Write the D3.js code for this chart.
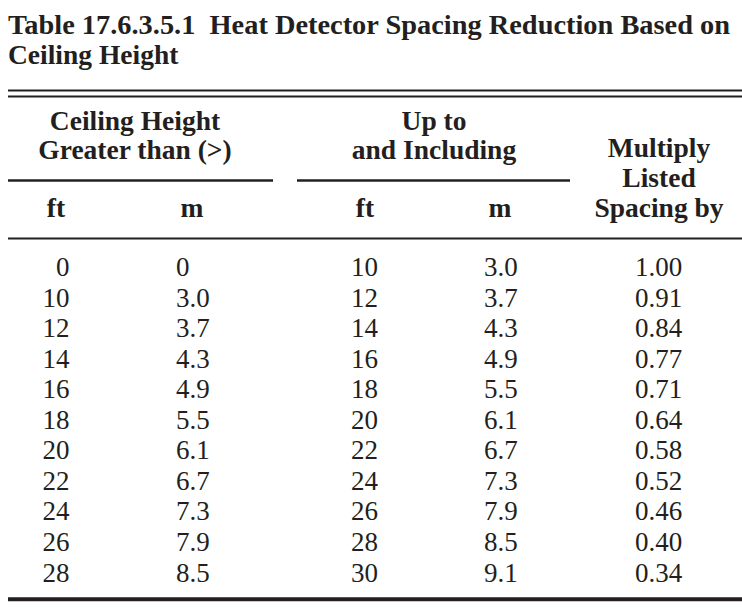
<!DOCTYPE html>
<html>
<head>
<meta charset="utf-8">
<script src="https://cdn.jsdelivr.net/npm/d3@7"></script>
<style>
  html, body { margin: 0; padding: 0; background: #fff; }
  svg { display: block; }
  text { fill: #231f20; }
  .bold { font-family: "Liberation Serif", "DejaVu Serif", serif; font-weight: bold; font-size: 27.5px; }
  .num { font-family: "Liberation Serif", "DejaVu Serif", serif; font-size: 27px; }
</style>
</head>
<body>
<svg id="viz_area" width="742" height="615"></svg>
<script>
// table values
const ftFrom = ["0", "10", "12", "14", "16", "18", "20", "22", "24", "26", "28"];
const mFrom  = ["0", "3.0", "3.7", "4.3", "4.9", "5.5", "6.1", "6.7", "7.3", "7.9", "8.5"];
const ftTo   = ["10", "12", "14", "16", "18", "20", "22", "24", "26", "28", "30"];
const mTo    = ["3.0", "3.7", "4.3", "4.9", "5.5", "6.1", "6.7", "7.3", "7.9", "8.5", "9.1"];
const factor = ["1.00", "0.91", "0.84", "0.77", "0.71", "0.64", "0.58", "0.52", "0.46", "0.40", "0.34"];

const titleLines = ["Table 17.6.3.5.1\u00a0\u00a0Heat Detector Spacing Reduction Based on", "Ceiling Height"];
const groupHeads = [["Ceiling Height", "Greater than (>)"], ["Up to", "and Including"]];
const unitHeads  = ["ft", "m", "ft", "m"];
const lastHead   = ["Multiply", "Listed", "Spacing by"];

const svg = d3.select("#viz_area");
const ink = "#231f20";

// title
svg.selectAll("text.title")
    .data(titleLines)
    .enter()
    .append("text")
    .attr("class", "bold title")
    .attr("x", 8)
    .attr("y", (d, i) => 34 + i * 30)
    .text(d => d)
    .each(function(d, i) {
        // stretch first line to the printed width
        if (i === 0) d3.select(this).attr("textLength", 722).attr("lengthAdjust", "spacingAndGlyphs");
    });

const rule = (x1, x2, y, w) => svg.append("line")
    .attr("x1", x1).attr("x2", x2).attr("y1", y).attr("y2", y)
    .attr("stroke", ink).attr("stroke-width", w);

// double rule under title
rule(8, 742, 90.5, 2.2);
rule(8, 742, 96.5, 2.2);

// spanning headers
const groupX = [135, 434];
groupHeads.forEach((lines, g) => {
    svg.selectAll(null)
        .data(lines)
        .enter()
        .append("text")
        .attr("class", "bold")
        .attr("text-anchor", "middle")
        .attr("x", groupX[g])
        .attr("y", (d, i) => 129.5 + i * 29.5)
        .text(d => d);
});
rule(8, 273, 180.5, 2.5);
rule(297, 570, 180.5, 2.5);

// last column header
svg.selectAll(null)
    .data(lastHead)
    .enter()
    .append("text")
    .attr("class", "bold")
    .attr("text-anchor", "middle")
    .attr("x", 659)
    .attr("y", (d, i) => 157 + i * 30)
    .text(d => d);

// units
const unitX = [56, 192, 365, 500];
svg.selectAll(null)
    .data(unitHeads)
    .enter()
    .append("text")
    .attr("class", "bold")
    .attr("text-anchor", "middle")
    .attr("x", (d, i) => unitX[i])
    .attr("y", 217)
    .text(d => d);

rule(8, 742, 238.5, 2.2);

// rows
const y = d3.scalePoint()
    .domain(d3.range(ftFrom.length))
    .range([276, 581.5]);

const columns = [
    {values: ftFrom, x: 69.5, anchor: "end"},
    {values: mFrom,  x: 176,  anchor: "start"},
    {values: ftTo,   x: 351,  anchor: "start"},
    {values: mTo,    x: 484,  anchor: "start"},
    {values: factor, x: 635,  anchor: "start"}
];

columns.forEach(col => {
    svg.selectAll(null)
        .data(col.values)
        .enter()
        .append("text")
        .attr("class", "num")
        .attr("text-anchor", col.anchor)
        .attr("x", col.x)
        .attr("y", (d, i) => y(i))
        .text(d => d);
});

// bottom rule
rule(8, 742, 599.3, 4);
</script>
</body>
</html>
